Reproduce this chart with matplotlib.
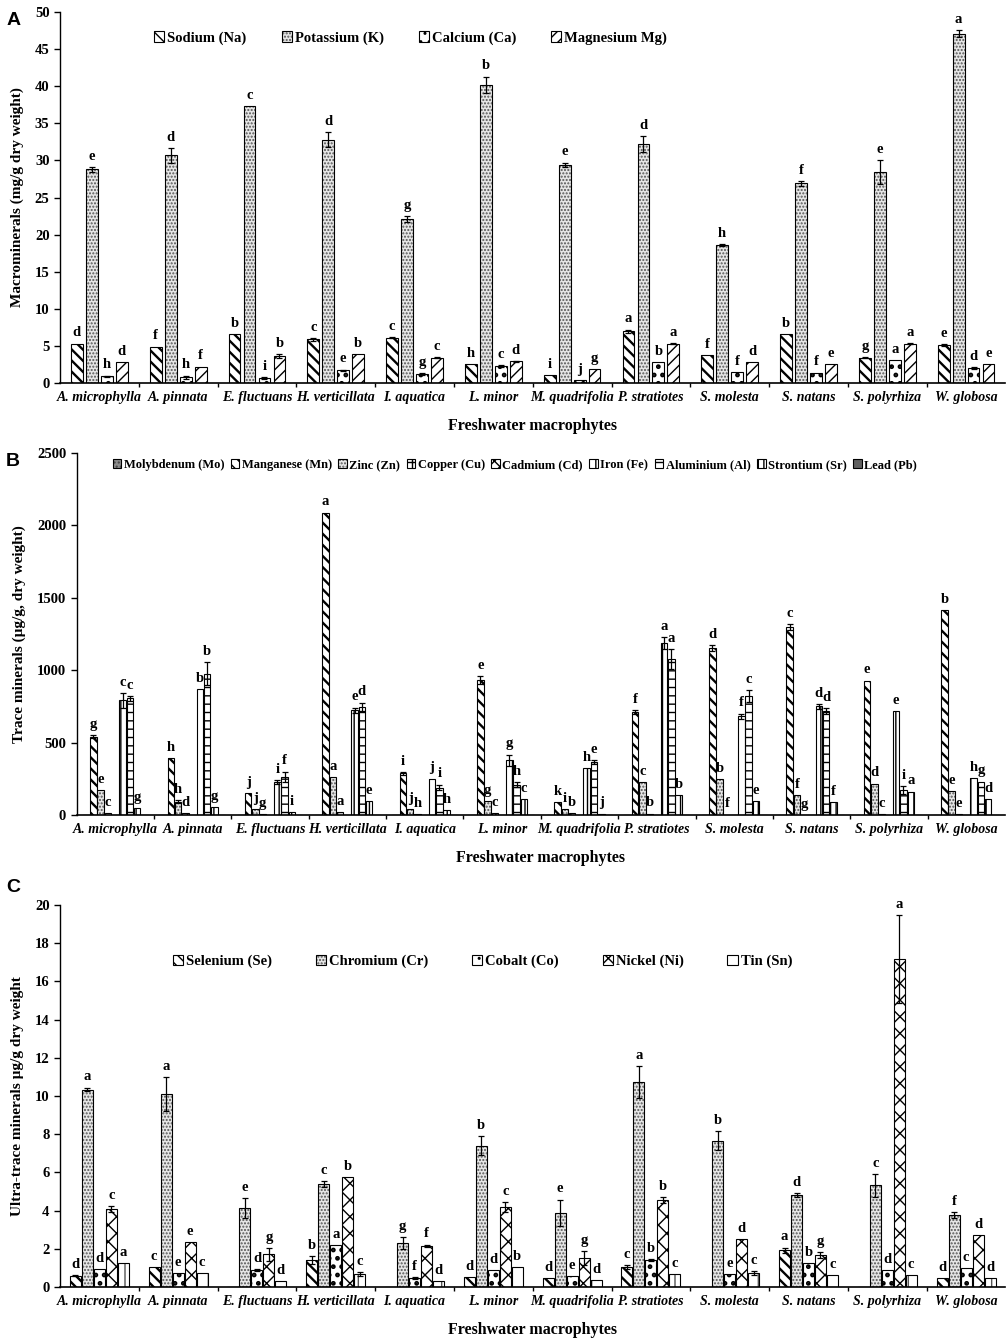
import numpy as np
import matplotlib.pyplot as plt
from matplotlib.patches import Patch

plt.rcParams['font.family'] = ['Liberation Serif', 'DejaVu Serif']
plt.rcParams['font.weight'] = 'bold'
plt.rcParams['hatch.linewidth'] = 1.0

species = ['A. microphylla', 'A. pinnata', 'E. fluctuans', 'H. verticillata', 'I. aquatica',
           'L. minor', 'M. quadrifolia', 'P. stratiotes', 'S. molesta', 'S. natans',
           'S. polyrhiza', 'W. globosa']

# ---- panel A: macrominerals (mg/g dry weight)
macro_names = ['Sodium (Na)', 'Potassium (K)', 'Calcium (Ca)', 'Magnesium Mg)']
na = [5.3, 4.9, 6.6, 5.9, 6.1, 2.6, 1.1, 7.0, 3.8, 6.6, 3.4, 5.1]
k = [28.8, 30.7, 37.3, 32.8, 22.1, 40.2, 29.4, 32.2, 18.6, 26.9, 28.4, 47.1]
ca = [0.9, 0.8, 0.7, 1.7, 1.2, 2.3, 0.4, 2.8, 1.5, 1.4, 3.1, 2.0]
mg = [2.8, 2.2, 3.6, 3.9, 3.4, 2.9, 1.9, 5.3, 2.8, 2.5, 5.3, 2.5]
na_err = [0, 0, 0, 0.2, 0.1, 0, 0, 0.2, 0, 0, 0.1, 0.1]
k_err = [0.3, 1.0, 0, 1.0, 0.4, 1.1, 0.3, 1.1, 0.1, 0.3, 1.6, 0.5]
ca_err = [0.1, 0.2, 0.1, 0.1, 0.1, 0.1, 0, 0, 0, 0, 0, 0.1]
mg_err = [0, 0, 0.3, 0, 0.1, 0.1, 0, 0.1, 0, 0, 0.1, 0]
na_let = ['d', 'f', 'b', 'c', 'c', 'h', 'i', 'a', 'f', 'b', 'g', 'e']
k_let = ['e', 'd', 'c', 'd', 'g', 'b', 'e', 'd', 'h', 'f', 'e', 'a']
ca_let = ['h', 'h', 'i', 'e', 'g', 'c', 'j', 'b', 'f', 'f', 'a', 'd']
mg_let = ['d', 'f', 'b', 'b', 'c', 'd', 'g', 'a', 'd', 'e', 'a', 'e']

# ---- panel B: trace minerals (ug/g dry weight)
trace_names = ['Molybdenum (Mo)', 'Manganese (Mn)', 'Zinc (Zn)', 'Copper (Cu)', 'Cadmium (Cd)',
               'Iron (Fe)', 'Aluminium (Al)', 'Strontium (Sr)', 'Lead (Pb)']
mo = [2, 2, 2, 2, 2, 2, 2, 2, 2, 2, 2, 2]
mn = [542, 392, 152, 2089, 288, 932, 90, 712, 1154, 1297, 928, 1413]
zn = [173, 92, 39, 261, 40, 97, 42, 230, 247, 139, 217, 166]
cu = [14, 14, 5, 23, 5, 12, 16, 10, 3, 2, 9, 7]
cd = [1, 1, 1, 1, 1, 1, 1, 1, 1, 1, 1, 1]
fe = [792, 868, 226, 722, 252, 378, 323, 1187, 681, 750, 720, 254]
al = [805, 976, 265, 746, 190, 210, 367, 1078, 824, 716, 173, 231]
sr = [48, 53, 18, 95, 32, 113, 10, 140, 97, 92, 162, 109]
pb = [2, 2, 2, 2, 2, 2, 2, 2, 2, 2, 2, 2]
mn_err = [10, 0, 0, 0, 10, 25, 0, 15, 20, 20, 0, 0]
zn_err = [0, 10, 0, 0, 0, 0, 0, 0, 0, 0, 0, 0]
fe_err = [50, 0, 15, 20, 0, 40, 0, 40, 20, 15, 0, 0]
al_err = [15, 80, 35, 30, 20, 15, 15, 70, 40, 20, 25, 0]
zero12 = [0] * 12
mn_let = ['g', 'h', 'j', 'a', 'i', 'e', 'k', 'f', 'd', 'c', 'e', 'b']
zn_let = ['e', 'h', 'j', 'a', 'j', 'g', 'i', 'c', 'b', 'f', 'd', 'e']
cu_let = ['c', 'd', 'g', 'a', 'h', 'c', 'b', 'b', 'f', 'g', 'c', 'e']
fe_let = ['c', 'b', 'i', 'e', 'j', 'g', 'h', 'a', 'f', 'd', 'e', 'h']
al_let = ['c', 'b', 'f', 'd', 'i', 'h', 'e', 'a', 'c', 'd', 'i', 'g']
sr_let = ['g', 'g', 'i', 'e', 'h', 'c', 'j', 'b', 'e', 'f', 'a', 'd']
blank12 = [''] * 12

# ---- panel C: ultra-trace minerals (ug/g dry weight)
ultra_names = ['Selenium (Se)', 'Chromium (Cr)', 'Cobalt (Co)', 'Nickel (Ni)', 'Tin (Sn)']
se = [0.6, 1.05, 0, 1.4, 0, 0.52, 0.47, 1.05, 0, 1.92, 0, 0.47]
cr = [10.34, 10.1, 4.14, 5.41, 2.3, 7.39, 3.88, 10.74, 7.65, 4.84, 5.33, 3.76]
co = [0.93, 0.73, 0.9, 2.2, 0.49, 0.87, 0.56, 1.4, 0.66, 1.26, 0.87, 1.0]
ni = [4.1, 2.36, 1.71, 5.75, 2.17, 4.19, 1.52, 4.54, 2.53, 1.66, 17.17, 2.71]
sn = [1.26, 0.75, 0.3, 0.7, 0.31, 1.05, 0.35, 0.66, 0.75, 0.61, 0.61, 0.47]
se_err = [0.03, 0, 0, 0.2, 0, 0, 0, 0.1, 0, 0.15, 0, 0]
cr_err = [0.1, 0.9, 0.5, 0.15, 0.3, 0.5, 0.7, 0.85, 0.5, 0.1, 0.6, 0.15]
co_err = [0, 0, 0.05, 0, 0.05, 0, 0, 0.05, 0, 0, 0, 0]
ni_err = [0.15, 0, 0.35, 0, 0.05, 0.25, 0.35, 0.15, 0, 0.15, 2.3, 0]
sn_err = [0, 0, 0, 0.1, 0, 0, 0, 0, 0.1, 0, 0, 0]
se_let = ['d', 'c', '', 'b', '', 'd', 'd', 'c', '', 'a', '', 'd']
cr_let = ['a', 'a', 'e', 'c', 'g', 'b', 'e', 'a', 'b', 'd', 'c', 'f']
co_let = ['d', 'e', 'd', 'a', 'f', 'd', 'e', 'b', 'e', 'b', 'd', 'c']
ni_let = ['c', 'e', 'g', 'b', 'f', 'c', 'g', 'b', 'd', 'g', 'a', 'd']
sn_let = ['a', 'c', 'd', 'c', 'd', 'b', 'd', 'c', 'c', 'c', 'c', 'd']

# (face colour, hatch, hatch colour, hatch line width)
S_DIAG = ('white', '\\\\\\', 'black', 1.7)
S_DOTS = ('#e6e6e6', '.....', '#555555', 1.0)
S_BLOB = ('white', '..', 'black', 2.2)
S_FWD = ('white', '///', 'black', 1.0)


def make_bar(ax, pos, vals, width, style):
    face, hatch, hcol, hlw = style
    with plt.rc_context({'hatch.linewidth': hlw}):
        bars = ax.bar(pos, vals, width, color=face, edgecolor=hcol, hatch=hatch, linewidth=0, zorder=2)
        patch = Patch(facecolor=face, edgecolor=hcol, hatch=hatch, linewidth=0)
    for p in list(bars) + [patch]:
        if hasattr(p, 'set_hatch_linewidth'):
            p.set_hatch_linewidth(hlw)
    ax.bar(pos, vals, width, fill=False, edgecolor='black', linewidth=0.8, zorder=3)
    return (patch, Patch(fill=False, edgecolor='black', linewidth=0.8))


def draw_panel(ax, names, values, errors, letters, styles, width, step,
               ymax, ystep, ylabel, leg_xy, leg_spacing, leg_size):
    x = np.arange(len(species))
    n = len(names)
    handles = []
    for i in range(n):
        pos = x + (i - (n - 1) / 2) * step
        handles.append(make_bar(ax, pos, values[i], width, styles[i]))
        err = np.array(errors[i])
        if err.any():
            ax.errorbar(pos[err > 0], np.array(values[i])[err > 0], yerr=err[err > 0], fmt='none',
                        ecolor='black', elinewidth=0.9, capsize=2.5, capthick=0.9, zorder=4)
        for j in range(len(species)):
            if letters[i][j]:
                ax.annotate(letters[i][j], (pos[j], values[i][j] + err[j]), xytext=(0, 3),
                            textcoords='offset points', ha='center', va='bottom',
                            fontsize=10.5, fontweight='bold')
    ax.set_xlim(-0.5, len(species) - 0.5)
    ax.set_ylim(0, ymax)
    ax.set_yticks(np.arange(0, ymax + ystep / 2, ystep))
    ax.set_xticks(x)
    ax.set_xticklabels(species, fontstyle='italic', fontweight='bold', fontsize=10)
    ax.set_xticks(x[:-1] + 0.5, minor=True)
    ax.tick_params(axis='x', which='major', length=0, pad=6)
    ax.tick_params(axis='x', which='minor', length=3, width=1)
    ax.tick_params(axis='y', length=4, width=1, labelsize=10.5)
    for s in ['top', 'right']:
        ax.spines[s].set_visible(False)
    ax.spines['left'].set_linewidth(1)
    ax.spines['bottom'].set_linewidth(1.2)
    ax.set_ylabel(ylabel, fontsize=11, fontweight='bold', labelpad=8)
    ax.set_xlabel('Freshwater macrophytes', fontsize=11.5, fontweight='bold', labelpad=10)
    ax.legend(handles, names, loc='center', bbox_to_anchor=leg_xy, ncol=n, frameon=False,
              handlelength=0.7, handleheight=0.7, handletextpad=0.2, columnspacing=leg_spacing,
              prop={'weight': 'bold', 'size': leg_size})


fig = plt.figure(figsize=(10.08, 13.39), dpi=100)
ax_a = fig.add_axes([0.0595, 0.714, 0.938, 0.277])
ax_b = fig.add_axes([0.076, 0.3913, 0.921, 0.2704])
ax_c = fig.add_axes([0.0595, 0.0388, 0.938, 0.2853])

draw_panel(ax_a, macro_names, [na, k, ca, mg], [na_err, k_err, ca_err, mg_err],
           [na_let, k_let, ca_let, mg_let], [S_DIAG, S_DOTS, S_BLOB, S_FWD],
           0.15, 0.19, 50, 5, 'Macrominerals (mg/g dry weight)', (0.371, 0.93), 2.4, 10.5)

trace_styles = [('#8c8c8c', '....', '#444444', 1.0), S_DIAG, S_DOTS, ('white', '++', 'black', 1.0),
                ('white', 'xxx', 'black', 1.0), ('white', '||', 'black', 1.0),
                ('white', '--', 'black', 1.0), ('white', '|||', 'black', 1.0),
                ('#606060', '', '#606060', 1.0)]
draw_panel(ax_b, trace_names, [mo, mn, zn, cu, cd, fe, al, sr, pb],
           [zero12, mn_err, zn_err, zero12, zero12, fe_err, al_err, zero12, zero12],
           [blank12, mn_let, zn_let, cu_let, blank12, fe_let, al_let, sr_let, blank12],
           trace_styles, 0.085, 0.094, 2500, 500, 'Trace minerals (µg/g, dry weight)',
           (0.472, 0.967), 0.5, 9.0)

draw_panel(ax_c, ultra_names, [se, cr, co, ni, sn], [se_err, cr_err, co_err, ni_err, sn_err],
           [se_let, cr_let, co_let, ni_let, sn_let],
           [S_DIAG, S_DOTS, S_BLOB, ('white', 'xx', 'black', 1.0), ('white', '|', '#555555', 1.0)],
           0.14, 0.152, 20, 2, 'Ultra-trace minerals µg/g dry weight', (0.447, 0.853), 3.0, 10.5)

for label, y in [('A', 0.985), ('B', 0.655), ('C', 0.337)]:
    fig.text(0.006, y, label, fontsize=14, fontweight='bold', family='Liberation Sans', va='center')

fig.savefig('out.png', dpi=100)
